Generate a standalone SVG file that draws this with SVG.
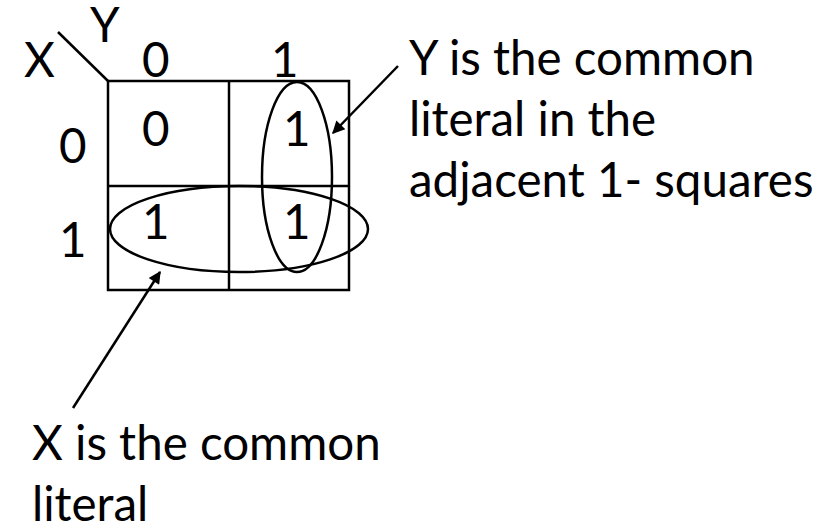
<svg xmlns="http://www.w3.org/2000/svg" width="830" height="524" viewBox="0 0 830 524">
<style>
text{font-family:Lato,"Open Sans","Liberation Sans",sans-serif;font-size:47.5px;fill:#000}
.ln{stroke:#000;stroke-width:2.5;fill:none}
</style>
<defs>
<marker id="ah" viewBox="0 0 10 10" refX="9" refY="5" markerWidth="6" markerHeight="5" markerUnits="strokeWidth" orient="auto">
<path d="M0,0 L10,5 L0,10 z" fill="#000"/>
</marker>
</defs>
<rect width="830" height="524" fill="#fff"/>
<g id="kmap">
<rect class="ln" x="108" y="81" width="241" height="209"/>
<line class="ln" x1="229" y1="81" x2="229" y2="290"/>
<line class="ln" x1="108" y1="186" x2="349" y2="186"/>
<line class="ln" x1="58" y1="32" x2="108" y2="81"/>
</g>
<g id="labels">
<text x="90" y="42">Y</text>
<text x="24" y="77">X</text>
<text x="142" y="77">0</text>
<text x="271" y="77">1</text>
<text x="59" y="163">0</text>
<text x="59" y="257">1</text>
</g>
<g id="cells">
<text x="142" y="146">0</text>
<text x="283" y="146">1</text>
<text x="142" y="239">1</text>
<text x="283" y="239">1</text>
</g>
<g id="groups">
<ellipse class="ln" cx="297" cy="177" rx="35" ry="95"/>
<ellipse class="ln" cx="239" cy="229" rx="129" ry="43"/>
</g>
<g id="connectors">
<line class="ln" x1="398" y1="66" x2="333" y2="133" marker-end="url(#ah)"/>
<line class="ln" x1="73" y1="408" x2="160" y2="272" marker-end="url(#ah)"/>
</g>
<g id="notes">
<text x="409" y="75">Y is the common</text>
<text x="409" y="136">literal in the</text>
<text x="409" y="197">adjacent 1- squares</text>
<text x="32" y="460">X is the common</text>
<text x="32" y="521">literal</text>
</g>
</svg>
